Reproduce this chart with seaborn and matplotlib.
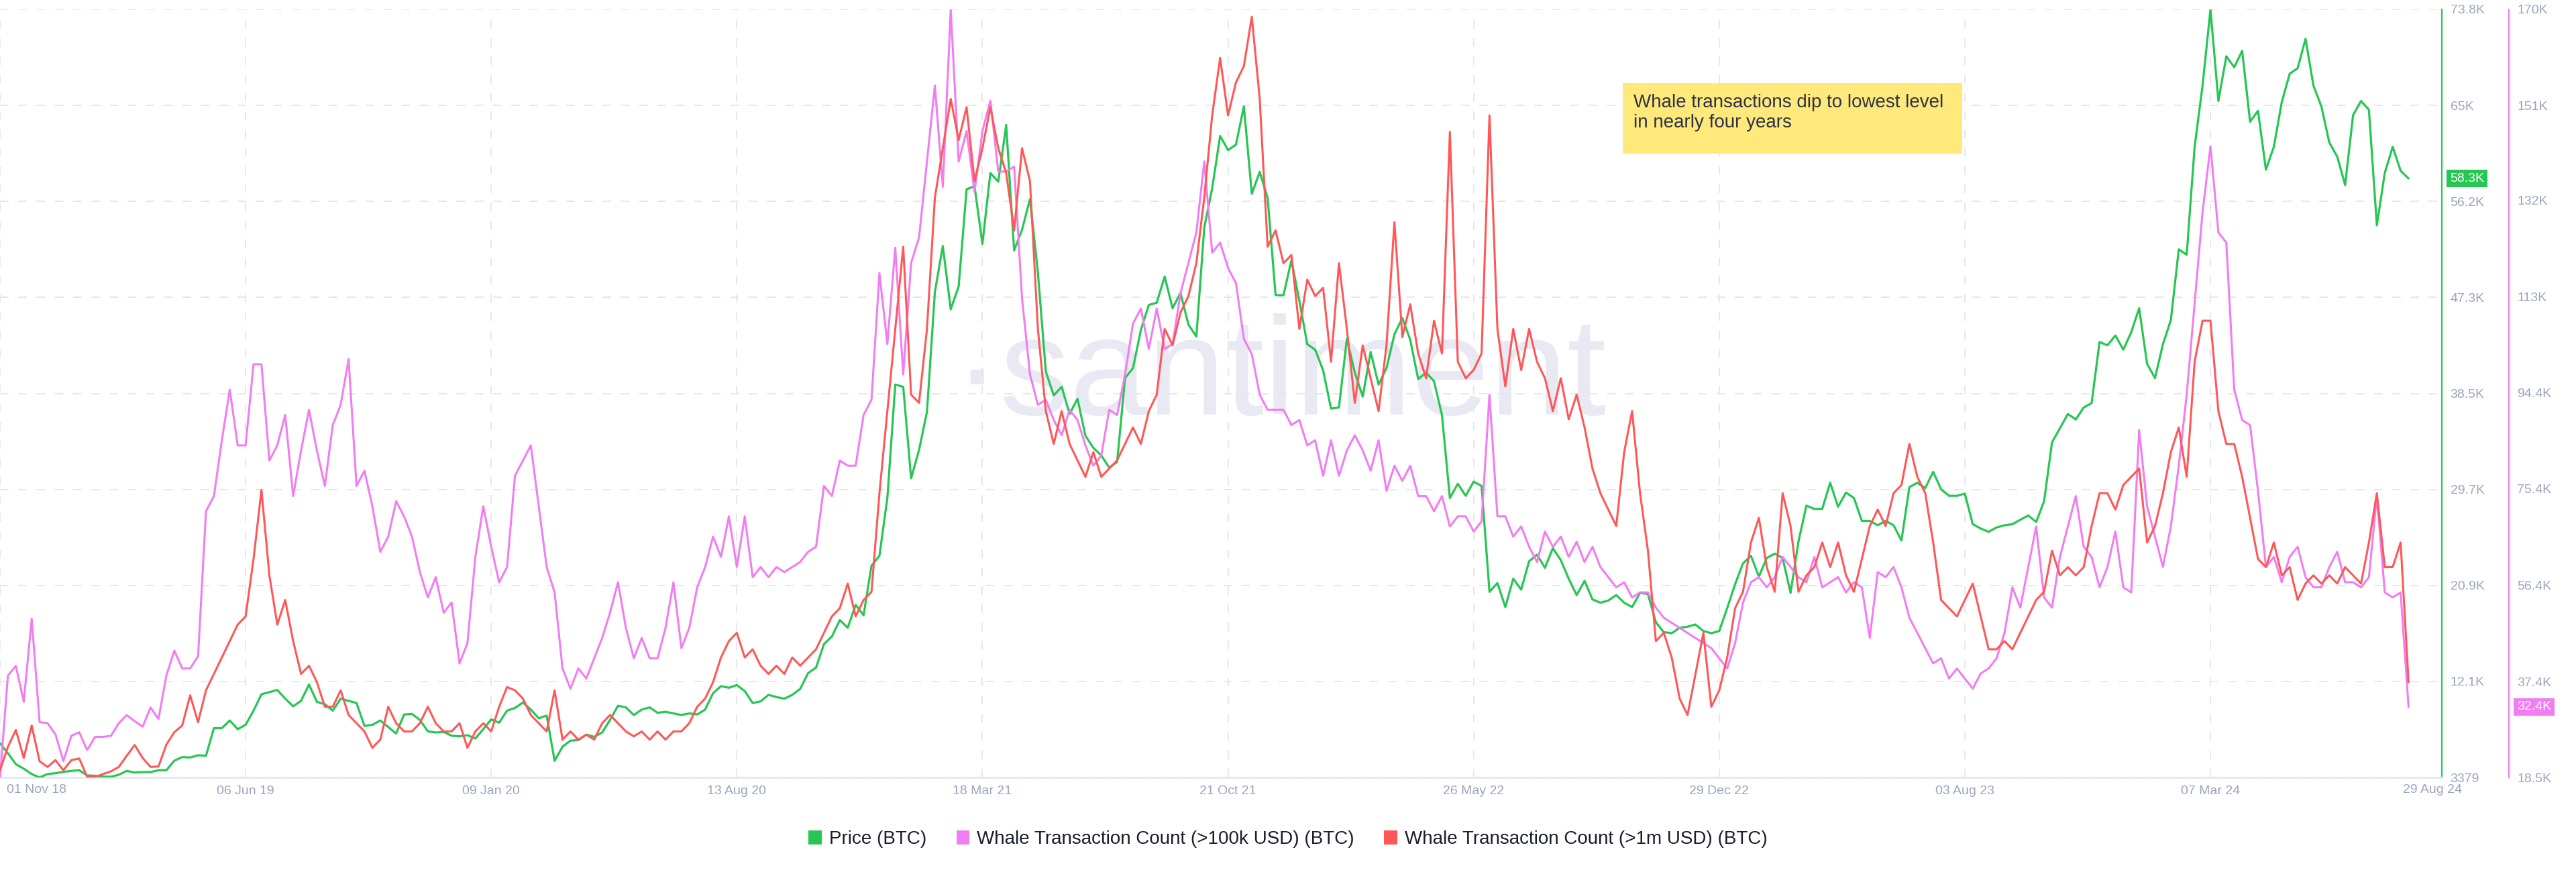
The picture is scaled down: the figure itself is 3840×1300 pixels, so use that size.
import matplotlib
matplotlib.use("Agg")
import matplotlib.pyplot as plt
import matplotlib.transforms as mtransforms
from matplotlib.patches import Patch, Rectangle
import numpy as np
import pandas as pd
import seaborn as sns

# weekly samples starting 01 Nov 2018
start_date = "2018-11-01"

price_btc = [
    6516, 5593, 4591, 4180, 3686, 3379, 3686, 3767, 3890, 3975,
    4037, 3563, 3533, 3459, 3440, 3625, 3975, 3828, 3869, 3869,
    4037, 4037, 4916, 5243, 5206, 5409, 5366,
    7900, 7900, 8600, 7800, 8200, 9500, 11000, 11200, 11400, 10600,
    9900, 10400, 11900, 10300, 10100, 9500, 10600, 10400, 10200, 8100,
    8200, 8600, 8000, 7400, 9150, 9200, 8650, 7600, 7500, 7550,
    7200, 7150, 7250, 6950, 7800, 8700, 8400, 9500, 9750, 10250,
    9600, 8800, 9050, 4900, 6200, 6750, 6800, 7300, 7100, 7500,
    8650, 9950, 9800, 9100, 9600, 9800, 9300, 9400, 9250, 9100,
    9250, 9150, 9600, 11100, 11750, 11600, 11850, 11300, 10200, 10350,
    10950, 10750, 10600, 10950, 11500, 12950, 13450, 15600, 16300, 17800,
    17100, 19200, 18250, 22800, 23700, 29000, 39400, 39200, 30800, 33400,
    36900, 47900, 52100, 46300, 48400, 57300, 57600, 52300, 58800, 58000,
    63200, 51700, 53600, 56400, 49700, 40600, 38400, 39200, 36700, 38100,
    34700, 33600, 32900, 31800, 32300, 40000, 40900, 44400, 46700, 46900,
    49300, 46400, 47800, 44900, 43800, 53800, 57400, 62200, 60900, 61400,
    64900, 56900, 58900, 56500, 47600, 47600, 50800, 47100, 43100, 42600,
    40700, 37200, 37300, 43600, 40500, 38300, 42400, 39400, 40900, 44000,
    45500, 43500, 39900, 40500, 39700, 36600, 29000, 30300, 29200, 30500,
    30100, 20400, 21200, 19000, 21600, 20600, 23200, 23800, 22600, 24400,
    23300, 21600, 20100, 21400, 19700, 19400, 19600, 20100, 19400, 19000,
    20300, 20200, 17600, 16700, 16600, 17100, 17200, 17400, 16800, 16600,
    16800, 18900, 21100, 23000, 23700, 21800, 23500, 23900, 23500, 20300,
    25000, 28300, 28000, 28000, 30400, 28200, 29500, 29000, 26900, 26900,
    26500, 26900, 26500, 25100, 30000, 30400, 29900, 31400, 29800, 29200,
    29200, 29400, 26600, 26200, 25900, 26300, 26500, 26600, 27000, 27400,
    26800, 28700, 34100, 35400, 36700, 36200, 37300, 37700, 43300, 43000,
    43900, 42600, 44200, 46400, 41300, 40000, 43100, 45300, 51800, 51300,
    61200, 66800, 73800, 65400, 69500, 68500, 70000, 63500, 64500, 59100,
    61200, 65300, 67900, 68400, 71100, 66800, 64900, 61600,
    60300, 57700, 64100, 65400, 64600, 54000, 58800, 61200, 59000, 58300,
]

# whale transaction count >100k USD, thousands
whale_100k = [
    18.5, 38.6, 40.5, 33.4, 49.8, 29.4, 29.2, 27.0, 21.7, 26.7,
    27.4, 23.9, 26.5, 26.5, 26.7, 29.2, 30.8, 29.6, 28.5, 32.3,
    30.0, 38.6, 43.5, 40.0, 40.0, 42.4, 71, 74, 85, 95,
    84, 84, 100, 100, 81, 84, 90, 74, 83, 91,
    83, 76, 88, 92, 101, 76, 79, 72, 63, 66,
    73, 70, 66, 59, 54, 58, 51, 53, 41, 45,
    62, 72, 64, 57, 60, 78, 81, 84, 72, 60,
    55, 40, 36, 40, 38, 42, 46, 51, 57, 48,
    42, 46, 42, 42, 48, 57, 44, 48, 56, 60,
    66, 62, 70, 60, 70, 58, 60, 58, 60, 59,
    60, 61, 63, 64, 76, 74, 81, 80, 80, 90,
    93, 118, 104, 123, 98, 120, 125, 140, 155, 135,
    170, 140, 146, 134, 146, 152, 138, 138, 139, 113,
    98, 92, 93, 89, 86, 91, 89, 84, 80, 82,
    91, 90, 98, 108, 111, 103, 111, 103, 104, 114,
    120, 126, 140, 122, 124, 119, 116, 105, 102, 94,
    91, 91, 91, 88, 89, 84, 85, 78, 85, 78,
    83, 86, 83, 79, 85, 75, 80, 77, 80, 74,
    74, 71, 74, 68, 70, 70, 67, 69, 94, 70,
    70, 66, 68, 64, 61, 67, 64, 66, 62, 65,
    61, 64, 60, 58, 56, 57, 54, 55, 55, 52,
    50, 49, 48, 47, 46, 45, 44, 42, 40, 45,
    53, 57, 58, 56, 58, 62, 60, 58, 57, 62,
    56, 57, 58, 55, 57, 56, 46, 59, 58, 60,
    56, 50, 47, 44, 41, 42, 38, 40, 38, 36,
    39, 40, 42, 47, 56, 52, 60, 68, 54, 52,
    62, 68, 74, 64, 62, 56, 60, 67, 56, 55,
    87, 72, 66, 60, 68, 80, 94, 112, 130, 143,
    126, 124, 95, 89, 88, 75, 60, 62, 57, 62,
    64, 58, 56, 56, 60, 63, 57, 57, 56, 58,
    74, 55, 54, 55, 32.4,
]

# whale transaction count >1m USD (own hidden scale)
whale_1m = [
    1087, 1373, 1578, 1237, 1632, 1196, 1128, 1210, 1087, 1210,
    1231, 1006, 1006, 1041, 1074, 1128, 1264, 1395, 1237, 1128,
    1133, 1400, 1550, 1632, 2000, 1672,
    2060, 2260, 2460, 2660, 2860, 2960, 3660, 4500, 3460, 2860,
    3160, 2660, 2260, 2360, 2160, 1860, 1860, 2060, 1760, 1660,
    1560, 1360, 1460, 1860, 1660, 1560, 1560, 1660, 1860, 1660,
    1560, 1560, 1660, 1360, 1560, 1660, 1560, 1860, 2100, 2060,
    1960, 1760, 1660, 1560, 2060, 1460, 1560, 1460, 1520, 1460,
    1660, 1760, 1660, 1560, 1500, 1560, 1460, 1560, 1460, 1560,
    1560, 1660, 1860, 1960, 2160, 2460, 2660, 2760, 2460, 2560,
    2360, 2260, 2360, 2260, 2460, 2360, 2460, 2560, 2760, 2960,
    3060, 3360, 2960, 3160,
    3260, 4460, 5460, 6460, 7460, 5660, 5560, 6460, 8060, 8660,
    9260, 8760, 9160, 8260, 8660, 9160, 8660, 8360, 7660, 8660,
    8260, 6460, 5460, 5060, 5460, 5060,
    4860, 4660, 4960, 4660, 4760, 4860, 5060, 5260, 5060, 5460,
    5660, 6460, 6260, 6660, 6860, 7260, 8060, 9060, 9760, 9060,
    9460, 9660, 10260, 9260, 7460, 7660, 7260, 7360, 6460, 7060,
    6860, 6960, 6060, 7260, 6460, 5560, 6260, 5860, 5460, 6260,
    7760, 6360, 6760, 6160, 5860, 6560, 6160, 8860, 6060, 5860,
    5960, 6160, 9060, 6460, 5760, 6460, 5960, 6460, 6060, 5860,
    5460, 5860, 5360, 5660, 5260, 4760, 4460, 4260, 4060, 4960,
    5460, 4460, 3760, 2660,
    2760, 2460, 1960, 1760, 2260, 2760, 1860, 2060, 2460, 3060,
    3260, 3860, 4160, 3560, 3260, 4460, 4060, 3260, 3460, 3560,
    3860, 3560, 3860, 3460, 3260, 3660, 4060, 4260, 4060, 4460,
    4560, 5060, 4660, 4460, 3860, 3160, 3060, 2960, 3160, 3360,
    2960, 2560, 2560, 2660, 2560, 2760, 2960, 3160, 3260, 3760,
    3460, 3560, 3460, 3560, 4060, 4460, 4460, 4260, 4560, 4660,
    4760, 3860, 4060, 4460, 4960, 5260, 4660, 6060, 6560, 6560,
    5460, 5060, 5060, 4660, 4160, 3660, 3560, 3860, 3460, 3560,
    3160, 3360, 3460, 3360, 3460, 3360, 3560, 3460, 3360, 3860,
    4460, 3560, 3560, 3860, 2160,
]

price_ticks = [3379, 12181, 20984, 29786, 38589, 47392, 56194, 64997, 73800]
price_tick_labels = ["3379", "12.1K", "20.9K", "29.7K", "38.5K", "47.3K", "56.2K", "65K", "73.8K"]
whale_ticks = [18.5, 37.4, 56.4, 75.4, 94.4, 113.3, 132.3, 151.0, 170.0]
whale_tick_labels = ["18.5K", "37.4K", "56.4K", "75.4K", "94.4K", "113K", "132K", "151K", "170K"]
whale_1m_range = [1000, 10350]

series_names = ["Price (BTC)", "Whale Transaction Count (>100k USD) (BTC)",
                "Whale Transaction Count (>1m USD) (BTC)"]
note_text = "Whale transactions dip to lowest level\nin nearly four years"

GREEN = "#26c653"
PINK = "#f27cf2"
RED = "#ff5757"
GRID = "#e4e7f0"
TICK = "#9ba5bf"

assert len(price_btc) == len(whale_100k) == len(whale_1m)
dates = pd.date_range(start_date, periods=len(price_btc), freq="7D")

sns.set_style("white")
plt.rcParams["font.family"] = ["Liberation Sans", "DejaVu Sans"]

W, H = 3840, 1300
fig = plt.figure(figsize=(W / 100, H / 100), dpi=100)
left_px, right_px, top_px, bottom_px = 0, 3640, 14, 1159
ax = fig.add_axes([left_px / W, 1 - bottom_px / H, (right_px - left_px) / W, (bottom_px - top_px) / H])
ax2 = ax.twinx()
ax3 = ax.twinx()

px_per_day = 1.6872
t0 = pd.Timestamp(start_date)
ax.set_xlim(t0, t0 + pd.Timedelta(days=(right_px - left_px) / px_per_day))

sns.lineplot(x=dates, y=price_btc, ax=ax, color=GREEN, linewidth=2.3, zorder=3)
sns.lineplot(x=dates, y=whale_100k, ax=ax2, color=PINK, linewidth=2.2)
sns.lineplot(x=dates, y=whale_1m, ax=ax3, color=RED, linewidth=2.2)

ax.set_ylim(price_ticks[0], price_ticks[-1])
ax2.set_ylim(whale_ticks[0], whale_ticks[-1])
ax3.set_ylim(*whale_1m_range)
for a in (ax, ax2, ax3):
    a.set_xlabel("")
    a.set_ylabel("")
    a.patch.set_visible(False)
    for s in ("top", "left", "bottom", "right"):
        a.spines[s].set_visible(False)

# grid
dash = (0, (6.5, 7.5))
ax.set_yticks(price_ticks)
ax.set_yticklabels(price_tick_labels)
tick_dates = pd.date_range(start_date, periods=10, freq="217D")
ax.set_xticks(tick_dates)
ax.set_xticklabels([""] + [d.strftime("%d %b %y") for d in tick_dates[1:]])
ax.grid(True, color=GRID, linestyle=dash, linewidth=1.4, zorder=0)
ax.tick_params(axis="x", length=0, pad=9, labelsize=14, labelcolor=TICK)
ax.tick_params(axis="y", left=False, labelleft=False, right=False, labelright=True,
               length=0, pad=9, labelsize=14, labelcolor=TICK)
ax.spines["bottom"].set_visible(True)
ax.spines["bottom"].set_color(GRID)
ax.spines["bottom"].set_linewidth(2)
ax.spines["right"].set_visible(True)
ax.spines["right"].set_color(GREEN)
ax.spines["right"].set_linewidth(1.6)

ax2.set_yticks(whale_ticks)
ax2.set_yticklabels(whale_tick_labels)
ax2.spines["right"].set_visible(True)
ax2.spines["right"].set_position(("axes", 3740 / 3640))
ax2.spines["right"].set_color(PINK)
ax2.spines["right"].set_linewidth(1.6)
ax2.tick_params(axis="y", length=0, pad=9, labelsize=14, labelcolor=TICK)
ax3.set_yticks([])

# first and last date labels
ax.annotate(tick_dates[0].strftime("%d %b %y"), xy=(tick_dates[0], 0),
            xycoords=("data", "axes fraction"), xytext=(7, -7), textcoords="offset points",
            ha="left", va="top", fontsize=14, color=TICK)
ax.annotate(dates[-1].strftime("%d %b %y"), xy=(dates[-1], 0),
            xycoords=("data", "axes fraction"), xytext=(26, -7), textcoords="offset points",
            ha="center", va="top", fontsize=14, color=TICK)

# watermark
ax.text(0.524, 0.52, "·santiment", transform=ax.transAxes, ha="center", va="center",
        fontsize=150, color="#e8e9f3", zorder=0)

# last value badges
bt = mtransforms.blended_transform_factory(ax.transAxes, ax.transData)
ax.text(1.0033, price_btc[-1], f"{price_btc[-1] / 1000:.1f}K", transform=bt, ha="left", va="center",
        fontsize=14, color="white", zorder=5, clip_on=False,
        bbox=dict(boxstyle="square,pad=0.25", fc=GREEN, ec="none"))
bt2 = mtransforms.blended_transform_factory(ax2.transAxes, ax2.transData)
ax2.text(3752 / 3640, whale_100k[-1], f"{whale_100k[-1]:.1f}K", transform=bt2, ha="left", va="center",
         fontsize=14, color="white", zorder=5, clip_on=False,
         bbox=dict(boxstyle="square,pad=0.25", fc=PINK, ec="none"))

# annotation box
fig.patches.append(Rectangle((2419 / W, 1 - 229 / H), 506 / W, 105 / H, transform=fig.transFigure,
                             facecolor="#ffe97a", edgecolor="none", zorder=5))
fig.text(2435 / W, 1 - 140 / H, note_text, ha="left", va="top", fontsize=20,
         color="#2e3346", linespacing=1.2, zorder=6)

# legend
handles = [Patch(facecolor=c, edgecolor="none") for c in (GREEN, PINK, RED)]
fig.legend(handles, series_names, loc="center", bbox_to_anchor=(0.5, 1 - 1251 / H), ncol=3,
           frameon=False, fontsize=20, handlelength=0.7, handleheight=0.8,
           handletextpad=0.4, columnspacing=1.6, labelcolor="#1b1e2c")

fig.savefig("out.png", dpi=100)
